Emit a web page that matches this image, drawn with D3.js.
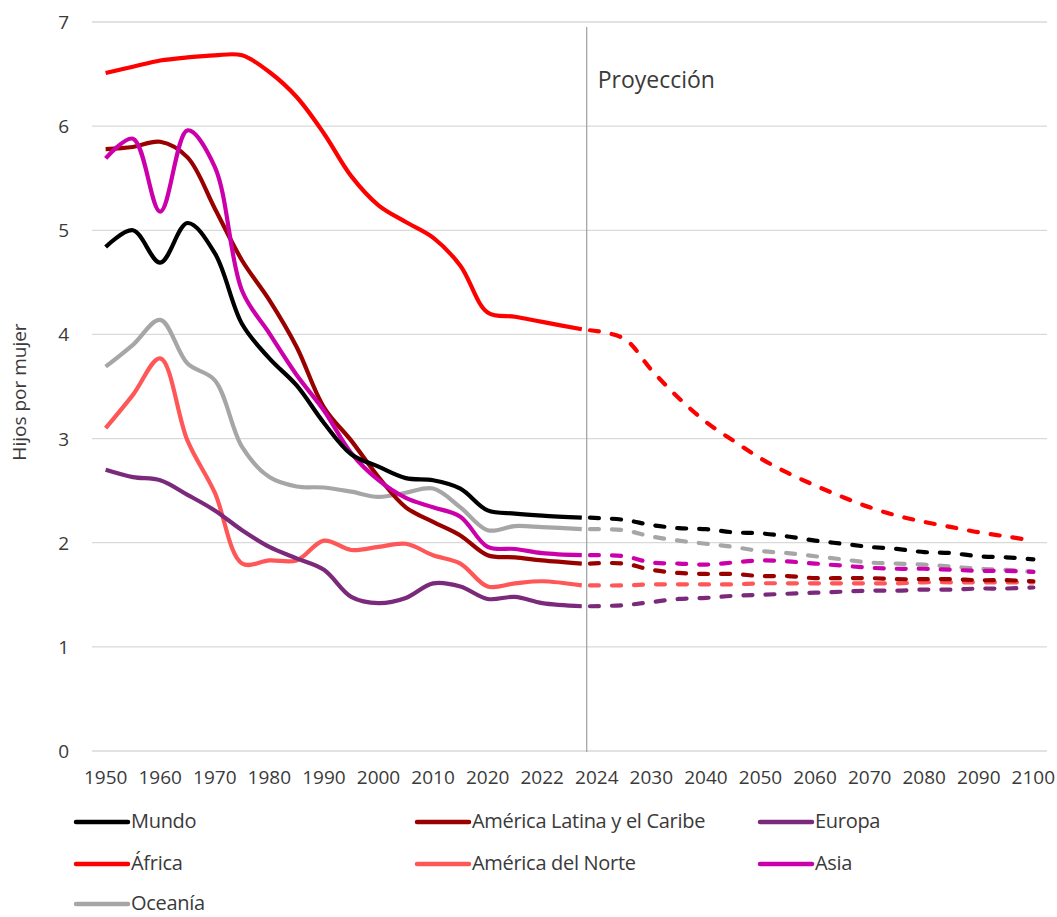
<!DOCTYPE html>
<html>
<head>
<meta charset="utf-8">
<script src="https://d3js.org/d3.v7.min.js"></script>
<style>
  body { margin: 0; background: white; font-family: "Open Sans", sans-serif; }
  .tick-label { font-size: 19px; fill: #3a3a3a; }
  .legend text { font-size: 20px; fill: #3a3a3a; letter-spacing: -0.3px; }
</style>
</head>
<body>
<script>
// years with observed data (solid) and projection years (dashed)
var years = [1950,1955,1960,1965,1970,1975,1980,1985,1990,1995,2000,2005,2010,2015,2020,2021,2022,2023];
var projYears = [2024,2025,2030,2035,2040,2045,2050,2055,2060,2065,2070,2075,2080,2085,2090,2095,2100];
var tickYears = [1950,1960,1970,1980,1990,2000,2010,2020,2022,2024,2030,2040,2050,2060,2070,2080,2090,2100];
var yTicks = [0,1,2,3,4,5,6,7];

// Hijos por mujer, por región
var mundo      = [4.84,5.00,4.69,5.07,4.78,4.10,3.77,3.51,3.15,2.85,2.73,2.62,2.60,2.52,2.31,2.28,2.26,2.24];
var mundoP     = [2.24,2.22,2.17,2.14,2.13,2.10,2.09,2.06,2.02,1.99,1.96,1.94,1.91,1.90,1.87,1.86,1.84];
var africa     = [6.51,6.57,6.63,6.66,6.68,6.68,6.52,6.28,5.93,5.52,5.24,5.08,4.93,4.66,4.21,4.17,4.12,4.05];
var africaP    = [4.04,3.96,3.66,3.39,3.16,2.98,2.81,2.67,2.55,2.44,2.34,2.26,2.20,2.15,2.10,2.06,2.02];
var latam      = [5.78,5.80,5.85,5.70,5.21,4.71,4.33,3.88,3.30,2.98,2.63,2.34,2.20,2.07,1.88,1.86,1.83,1.80];
var latamP     = [1.80,1.80,1.74,1.71,1.70,1.70,1.68,1.68,1.66,1.66,1.66,1.65,1.65,1.65,1.64,1.64,1.63];
var norte      = [3.10,3.42,3.77,2.98,2.48,1.80,1.83,1.83,2.02,1.93,1.96,1.99,1.88,1.80,1.58,1.61,1.63,1.59];
var norteP     = [1.59,1.59,1.60,1.60,1.60,1.60,1.61,1.61,1.61,1.61,1.61,1.61,1.62,1.62,1.62,1.62,1.62];
var europa     = [2.70,2.63,2.60,2.46,2.31,2.12,1.96,1.85,1.74,1.48,1.42,1.47,1.61,1.58,1.46,1.48,1.42,1.39];
var europaP    = [1.39,1.40,1.43,1.46,1.47,1.49,1.50,1.51,1.52,1.53,1.54,1.54,1.55,1.55,1.56,1.56,1.57];
var asia       = [5.69,5.88,5.18,5.96,5.61,4.42,4.01,3.61,3.27,2.86,2.60,2.43,2.34,2.25,1.96,1.94,1.90,1.88];
var asiaP      = [1.88,1.87,1.81,1.80,1.79,1.81,1.83,1.82,1.80,1.78,1.76,1.75,1.75,1.74,1.73,1.73,1.72];
var oceania    = [3.69,3.90,4.14,3.72,3.56,2.92,2.63,2.54,2.53,2.49,2.44,2.48,2.52,2.34,2.12,2.16,2.15,2.13];
var oceaniaP   = [2.13,2.12,2.06,2.02,1.99,1.96,1.92,1.90,1.87,1.84,1.81,1.80,1.79,1.77,1.75,1.74,1.72];

var series = [
  {name: "Mundo", color: "#000000", v: mundo, p: mundoP},
  {name: "América Latina y el Caribe", color: "#990000", v: latam, p: latamP},
  {name: "Europa", color: "#7B2A7B", v: europa, p: europaP},
  {name: "África", color: "#FF0000", v: africa, p: africaP},
  {name: "América del Norte", color: "#FF5757", v: norte, p: norteP},
  {name: "Asia", color: "#CC00AA", v: asia, p: asiaP},
  {name: "Oceanía", color: "#A6A6A6", v: oceania, p: oceaniaP}
];
// draw order (back to front)
var drawOrder = ["Oceanía","América del Norte","Europa","América Latina y el Caribe","Asia","Mundo","África"];

var width = 1057, height = 917;
var svg = d3.select("body").append("svg")
  .attr("width", width)
  .attr("height", height);

// year -> category index (Excel style category axis, 2 categories per label)
var catIndex = d3.scaleLinear()
  .domain([1950, 2020, 2021, 2022, 2023, 2024, 2025, 2100])
  .range([0, 14, 15, 16, 17.45, 17.75, 19, 34]);
var xCat = d3.scaleLinear().domain([-0.5, 34.5]).range([92, 1047]);
var x = function(yr) { return xCat(catIndex(yr)); };
var y = d3.scaleLinear().domain([0, 7]).range([751, 22]);

// gridlines
svg.append("g").selectAll("line")
  .data(yTicks)
  .enter().append("line")
  .attr("x1", 92).attr("x2", 1047)
  .attr("y1", d => y(d)).attr("y2", d => y(d))
  .attr("stroke", "#D9D9D9").attr("stroke-width", 1.3);

// y labels
svg.append("g").selectAll("text")
  .data(yTicks)
  .enter().append("text")
  .attr("class", "tick-label")
  .attr("x", 69).attr("y", d => y(d) + 7)
  .attr("text-anchor", "end")
  .text(d => d);

// x labels (one label every second category)
svg.append("g").selectAll("text")
  .data(tickYears)
  .enter().append("text")
  .attr("class", "tick-label")
  .attr("x", (d, i) => xCat(i * 2))
  .attr("y", 784)
  .attr("text-anchor", "middle")
  .text(d => d);

// axis title
svg.append("text")
  .attr("transform", "translate(26,392) rotate(-90)")
  .attr("text-anchor", "middle")
  .style("font-size", "19px").style("fill", "#3a3a3a")
  .text("Hijos por mujer");

// projection divider
var split = 2023.6;
svg.append("line")
  .attr("x1", x(split)).attr("x2", x(split))
  .attr("y1", 27).attr("y2", 752)
  .attr("stroke", "#A6A6A6").attr("stroke-width", 1.3);
svg.append("text")
  .attr("x", x(split) + 11).attr("y", 88)
  .style("font-size", "23px").style("fill", "#3a3a3a")
  .text("Proyección");

var line = d3.line()
  .x(d => x(d[0]))
  .y(d => y(d[1]))
  .curve(d3.curveCatmullRom.alpha(0.5));

var byName = {};
series.forEach(s => byName[s.name] = s);

var g = svg.append("g");
drawOrder.forEach(function(n) {
  var s = byName[n];
  g.append("path")
    .attr("d", line(projYears.map((yr, i) => [yr, s.p[i]])))
    .attr("fill", "none")
    .attr("stroke", s.color)
    .attr("stroke-width", 4.2)
    .attr("stroke-linecap", "round")
    .attr("stroke-dasharray", "9,13");
});
drawOrder.forEach(function(n) {
  var s = byName[n];
  g.append("path")
    .attr("d", line(years.map((yr, i) => [yr, s.v[i]])))
    .attr("fill", "none")
    .attr("stroke", s.color)
    .attr("stroke-width", 4.2)
    .attr("stroke-linejoin", "round");
});

// legend: 3 columns
var colX = [76, 417, 760];
var rowY = [822, 864, 904];
var legend = svg.append("g").attr("class", "legend");
series.forEach(function(s, i) {
  var lx = colX[i % 3], ly = rowY[Math.floor(i / 3)];
  legend.append("line")
    .attr("x1", lx).attr("x2", lx + 52)
    .attr("y1", ly).attr("y2", ly)
    .attr("stroke", s.color).attr("stroke-width", 4.5)
    .attr("stroke-linecap", "round");
  legend.append("text")
    .attr("x", lx + 55).attr("y", ly + 6)
    .text(s.name);
});
</script>
</body>
</html>
